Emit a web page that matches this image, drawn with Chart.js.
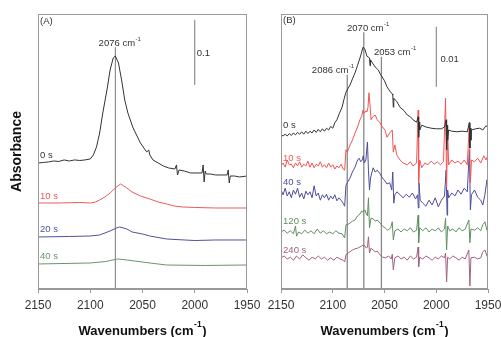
<!DOCTYPE html>
<html>
<head>
<meta charset="utf-8">
<script src="https://cdn.jsdelivr.net/npm/chart.js@4.4.1/dist/chart.umd.min.js"></script>
<style>
  body { margin: 0; background: #ffffff; }
  #wrap { position: relative; width: 501px; height: 337px; overflow: hidden; }
  canvas { position: absolute; top: 0; }
  #chart-a { left: 0; }
  #chart-b { left: 250px; }
</style>
</head>
<body>
<div id="wrap">
  <canvas id="chart-a" width="262" height="337"></canvas>
  <canvas id="chart-b" width="251" height="337"></canvas>
</div>
<script>
// ---- Panel (A): absorbance, spectra offset for display ----
const wnA0 = [2150,2145,2140,2135,2130,2125,2120,2115,2110,2105,2100,2097,2094,2091,2088,2084,2081,2078,2076,2073,
  2070,2067,2064,2059,2052,2046,2044,2043,2040,2035,2030,2025,2019,2017.5,2016.5,2015,2010,2004,1998,1993,
  1992,1991,1990,1989,1985,1980,1975,1969,1968,1967,1966,1962,1957,1950];
const absA0 = [0.1938,0.1946,0.1954,0.1969,0.1962,0.1985,0.1969,0.1985,0.1977,0.1985,0.2000,0.2062,0.2185,0.2400,0.2708,0.3062,0.3369,0.3554,0.3585,0.3477,
  0.3215,0.2908,0.2708,0.2477,0.2246,0.2108,0.2138,0.2062,0.1985,0.1938,0.1892,0.1862,0.1846,0.1908,0.1754,0.1831,0.1815,0.1785,0.1785,0.1785,
  0.1908,0.1646,0.1815,0.1769,0.1769,0.1754,0.1754,0.1754,0.1831,0.1631,0.1738,0.1738,0.1723,0.1738];

const wnA10 = [2150,2130,2110,2100,2095,2091,2086,2081,2078,2075,2071,2068,2065,2060,2052,2043,2035,2027,2020,2012,2000,1980,1950];
const absA10 = [0.1323,0.1323,0.1331,0.1323,0.1338,0.1369,0.1415,0.1477,0.1523,0.1569,0.1615,0.1585,0.1554,0.1492,0.1431,0.1385,0.1338,0.1308,0.1277,0.1262,0.1254,0.1246,0.1246];

const wnA20 = [2150,2120,2100,2091,2081,2075,2072,2065,2060,2050,2043,2027,2010,2000,1980,1950];
const absA20 = [0.0800,0.0808,0.0815,0.0831,0.0892,0.0938,0.0954,0.0923,0.0877,0.0846,0.0815,0.0769,0.0754,0.0746,0.0754,0.0754];

const wnA40 = [2150,2100,2085,2074,2065,2043,2027,1990,1950];
const absA40 = [0.0385,0.0400,0.0423,0.0462,0.0446,0.0400,0.0369,0.0362,0.0369];

// ---- Panel (B): values in 10^-3 absorbance, spectra offset for display ----
const wnB0 = [2150,2148,2146,2144,2142,2140,2138,2136,2134,2132,2130,2128,2126,2124,2122,2120,2118,2116,2114,2112,2110,2108,2106,2104,2102,2100,
  2098,2096,2093.5,2091,2089,2087.2,2085,2083.3,2081,2078.5,2076,2073.7,2072,2070.8,2069,2067,2066,2064.5,2064,2063.5,
  2061,2059,2056,2054,2050,2047.6,2045,2042.5,2042,2041.5,2041,2038,2035,2031,2028,2025,2022.5,2019,2017.5,2017,
  2016.3,2016,2014,2010,2005,2000,1995,1992,1990.5,1990,1989.5,1989,1988,1985,1980,1975,1970,1968,1967.5,1967,
  1966.5,1966,1962,1958,1955,1952,1950];
const mB0 = [25.7,25.5,25.8,25.5,25.9,25.6,26.0,25.7,26.1,25.8,26.2,25.8,26.3,25.9,26.3,26.0,26.5,26.1,26.6,26.2,26.7,26.3,26.8,26.5,27.1,26.8,
  27.7,28.2,29.3,30.3,31.7,32.8,33.5,34.0,35.0,36.0,37.3,38.5,39.5,40.3,40.0,38.8,38.7,38.5,37.2,38.2,
  37.5,37.0,36.5,35.8,34.7,33.7,33.0,32.5,32.3,30.3,31.8,31.2,30.3,29.7,29.0,28.7,28.2,27.8,28.7,25.3,
  27.8,26.5,27.3,27.0,26.8,26.7,26.7,27.0,28.2,23.2,27.3,24.8,26.5,26.3,26.2,26.3,26.2,27.7,23.5,26.8,
  24.8,26.5,26.7,26.8,26.5,27.2,27.0];

const wnB10 = [2150,2148,2146,2144,2142,2140,2138,2136,2134,2132,2130,2128,2126,2124,2122,2120,2118,2116,2114,2112,2110,2108,2106,2104,2102,2100,2098,2096,2094,2092,2090,
  2088.5,2087.2,2086,2083.3,2081,2078.5,2076,2073.7,2072,2070.8,2069.5,2068,2067,2066,2065,2064,2063,2061.5,2059,
  2057,2054.3,2052,2049.5,2047.6,2045,2042.5,2041.5,2040,2038,2035,2032,2028,2025,2022.5,2019,2017.5,2017,2016,2014,
  2011,2008,2005,2002,1999,1996,1993,1991,1990,1989,1988,1985,1982,1979,1976,1973,1970,1968,1967,1966,
  1963,1960,1957,1954,1952,1950];
const mB10 = [20.5,21.0,20.3,21.5,20.7,20.8,20.2,21.0,20.5,21.2,20.3,20.8,20.5,21.3,20.3,21.0,20.2,20.8,20.5,21.2,20.3,20.7,20.2,21.0,20.3,20.7,20.0,20.5,20.2,20.8,20.0,
  19.8,23.2,22.8,24.0,24.8,26.0,27.0,28.2,28.8,29.8,29.3,29.7,29.5,30.2,32.7,30.7,28.2,28.7,29.0,
  28.2,27.7,27.0,26.5,25.3,26.0,26.5,22.8,24.0,22.3,21.5,21.0,20.7,21.2,20.5,21.0,29.8,17.7,21.5,20.2,
  21.0,20.7,21.3,20.8,21.2,20.7,21.2,31.8,17.0,26.5,20.7,21.5,21.0,21.3,20.8,21.5,20.7,27.8,17.7,21.5,
  21.2,21.8,21.0,22.2,21.5,22.3];

const wnB40 = [2150,2148,2146,2144,2142,2140,2138,2136,2134,2132,2130,2128,2126,2124,2122,2120,2118,2116,2114,2112,2110,2108,2106,2104,2102,2100,2098,2096,2094,2092,2090,
  2088.5,2087.2,2086,2083.3,2081,2078.5,2076,2074.5,2073,2071.5,2070.5,2069.5,2068,2066.5,2065.5,2064.5,2063.5,2061,2059,
  2057,2054.3,2052,2049.5,2047.6,2045,2043,2042,2041,2040,2038,2035,2032,2029,2026,2023,2020,2018,2017.3,2016.7,
  2015.5,2013,2010,2007,2004,2001,1998,1995,1992,1990.5,1989.5,1989,1988,1985,1982,1979,1976,1973,1970,1968,
  1967,1966,1963,1960,1957,1955,1953,1951,1950];
const mB40 = [16.5,15.7,16.8,15.5,16.2,15.2,16.5,15.8,16.8,15.3,16.0,15.0,16.3,15.7,16.2,15.2,17.2,15.5,16.0,14.8,15.7,15.2,15.8,14.8,15.5,15.0,15.7,14.7,15.2,14.8,14.3,
  13.8,17.3,17.7,18.5,19.5,20.3,21.5,21.8,21.2,21.5,22.2,21.0,21.5,24.5,19.8,16.5,18.5,20.2,19.5,
  19.8,19.2,18.5,18.0,17.5,17.7,16.5,19.5,14.3,15.7,16.2,15.7,15.2,15.8,15.3,16.0,15.0,15.7,13.5,17.7,
  14.8,14.3,13.8,14.8,14.0,15.2,13.7,14.8,15.5,19.8,12.3,16.5,15.2,16.0,15.5,16.5,15.8,16.8,16.2,23.2,
  13.2,15.7,16.5,15.3,14.8,14.0,15.7,18.2,17.3];

const wnB120 = [2150,2147,2144,2141,2138,2136,2135,2133,2130,2127,2124,2121,2118,2115,2112,2109,2106,2103,2100,2097,
  2094,2091,2088.5,2087.2,2085,2083.3,2081,2078.5,2076,2073.7,2072,2070.8,2069,2067.5,2066.5,2065.5,2064.5,2063,2061,2059,
  2057,2054.3,2052,2049.5,2047,2044,2042.5,2041.5,2040,2037,2034,2031,2028,2025,2022,2019,2017.5,2017,2016,2013,
  2010,2007,2004,2001,1998,1995,1992,1991,1990,1989,1987,1984,1981,1978,1975,1972,1968.5,1967.5,1966.5,1963,
  1960,1957,1955,1953,1951,1950];
const mB120 = [9.5,9.8,9.3,9.7,9.2,10.5,8.8,9.5,9.2,9.8,9.3,9.7,9.2,10.0,9.3,9.7,9.2,9.5,9.2,9.7,
  9.3,9.2,8.5,10.7,10.8,11.0,11.3,11.5,12.2,12.5,13.0,12.8,13.2,12.5,12.2,15.2,10.2,11.8,11.7,11.3,
  11.5,11.0,10.5,10.2,9.8,10.2,11.2,8.2,9.7,10.0,9.5,10.0,9.7,10.2,9.5,9.8,12.3,7.7,10.2,9.7,
  10.2,9.5,10.0,9.7,10.2,9.5,10.0,11.8,6.5,10.5,9.7,10.0,9.5,10.2,9.7,10.0,11.5,7.7,10.0,9.8,
  10.2,9.7,10.7,11.2,9.8,10.3];

const wnB240 = [2150,2147,2144,2141,2138,2135,2132,2129,2126,2123,2120,2117,2114,2111,2108,2105,2102,2099,2096,2093,2090,
  2088.5,2087.2,2085,2083.3,2081,2078.5,2076,2073.7,2072,2070.8,2069,2067.5,2066.5,2065.5,2064.5,2063,2061,2059,2057,
  2054.3,2052,2049,2046,2043.5,2042.5,2041.5,2040,2037,2034,2031,2028,2025,2022,2019,2017.5,2017,2016,2013,2010,
  2007,2004,2001,1998,1995,1992,1991,1990,1989,1987,1984,1981,1978,1975,1972,1968.5,1967.5,1966.5,1963,1960,
  1957,1955,1953,1951,1950];
const mB240 = [5.2,5.5,5.0,5.3,4.8,5.5,5.0,5.7,5.2,4.8,5.3,5.0,5.5,5.0,5.3,4.8,5.2,4.8,5.3,5.0,4.8,
  4.5,5.7,6.0,6.2,6.5,6.7,6.8,7.0,7.2,7.3,7.2,6.8,7.0,8.7,6.0,6.8,6.5,6.2,6.3,
  5.7,5.3,5.2,5.5,5.0,5.8,3.2,5.2,5.5,5.0,5.3,4.8,5.5,5.0,5.3,7.0,3.7,5.3,5.0,5.5,
  5.2,4.8,5.3,5.0,5.5,5.2,6.0,1.2,5.3,5.0,5.5,5.2,4.8,5.3,5.0,6.5,0.5,5.2,5.3,5.0,
  5.2,6.2,6.5,5.5,5.3];

// x tick range, wavenumbers
const wnMin = 1950, wnMax = 2150, wnStep = 50;

// marker lines at band positions [wavenumber, top of line]
const markA = [[2076, 0.372]];
const markB = [[2086, 35.7], [2070, 42.8], [2053, 38.7]];

const FONT = '"Liberation Sans", Arial, Helvetica, sans-serif';
const GRAY = "#999999";

function pts(xs, ys) {
    return xs.map((x, i) => ({x: x, y: ys[i]}));
}

function spectrum(xs, ys, color) {
    return {data: pts(xs, ys), borderColor: color, borderWidth: 1, pointRadius: 0, tension: 0, order: 0};
}

function vline(x, yTop, color, width) {
    return {data: [{x: x, y: 0}, {x: x, y: yTop}], borderColor: color, borderWidth: width, pointRadius: 0, order: 1};
}

// text with a raised "-1" style superscript
function supText(ctx, base, sup, x, y, size, weight, align) {
    ctx.font = weight + " " + size + "px " + FONT;
    const w1 = ctx.measureText(base).width;
    const supSize = Math.round(size * 0.65);
    ctx.font = weight + " " + supSize + "px " + FONT;
    const w2 = sup ? ctx.measureText(sup).width : 0;
    let x0 = x;
    if (align === "center") x0 = x - (w1 + w2) / 2;
    ctx.textAlign = "left";
    ctx.textBaseline = "middle";
    ctx.font = weight + " " + size + "px " + FONT;
    ctx.fillText(base, x0, y);
    if (sup) {
        ctx.font = weight + " " + supSize + "px " + FONT;
        ctx.fillText(sup, x0 + w1 + 0.5, y - size * 0.42);
    }
}

// frame, annotations and the x axis title
const decorPlugin = {
    id: "decor",
    afterDraw(chart) {
        const ctx = chart.ctx;
        const a = chart.chartArea;
        const xs = chart.scales.x, ys = chart.scales.y;
        ctx.save();
        ctx.strokeStyle = GRAY;
        ctx.lineWidth = 1;
        ctx.strokeRect(a.left + 0.5, a.top + 0.5, a.right - a.left - 1, a.bottom - a.top - 1);

        const notes = chart.options.plugins.decor.notes;
        notes.forEach(n => {
            ctx.fillStyle = n.color || "#333333";
            supText(ctx, n.text, n.sup, xs.getPixelForValue(n.x), ys.getPixelForValue(n.y), 9.5, "normal", n.align);
        });

        ctx.fillStyle = "#111111";
        const cx = (a.left + a.right) / 2;
        ctx.font = "bold 13px " + FONT;
        const wBase = ctx.measureText("Wavenumbers (cm").width;
        ctx.font = "bold 8.5px " + FONT;
        const wSup = ctx.measureText("-1").width;
        ctx.font = "bold 13px " + FONT;
        const wEnd = ctx.measureText(")").width;
        const x0 = cx - (wBase + wSup + wEnd + 1) / 2;
        ctx.textAlign = "left";
        ctx.textBaseline = "middle";
        ctx.fillText("Wavenumbers (cm", x0, 331);
        ctx.font = "bold 8.5px " + FONT;
        ctx.fillText("-1", x0 + wBase + 0.5, 325);
        ctx.font = "bold 13px " + FONT;
        ctx.fillText(")", x0 + wBase + wSup + 1, 331);
        ctx.restore();
    }
};

function xAxis() {
    return {
        type: "linear",
        reverse: true,
        min: wnMin,
        max: wnMax,
        ticks: {stepSize: wnStep, color: "#333333", font: {family: FONT, size: 12}, padding: 5,
                format: {useGrouping: false}},
        grid: {drawOnChartArea: false, drawTicks: true, tickLength: 4, color: GRAY},
        border: {display: true, color: GRAY},
        // end labels may spill past the plot box, as in the original
        afterFit: function(scale) {
            scale.paddingLeft = 0;
            scale.paddingRight = 0;
        }
    };
}

Chart.defaults.font.family = FONT;

// Panel A
const chartA = new Chart(document.getElementById("chart-a").getContext("2d"), {
    type: "line",
    data: {
        datasets: [
            spectrum(wnA0, absA0, "#333333"),
            spectrum(wnA10, absA10, "#ee5a5a"),
            spectrum(wnA20, absA20, "#50509e"),
            spectrum(wnA40, absA40, "#6a956a"),
            vline(markA[0][0], markA[0][1], "#777777", 1),
            // 0.1 absorbance scale bar
            {data: [{x: 2000, y: 0.314}, {x: 2000, y: 0.414}], borderColor: "#777777", borderWidth: 1, pointRadius: 0, order: 1}
        ]
    },
    options: {
        responsive: false,
        animation: false,
        devicePixelRatio: 1,
        layout: {padding: {left: 4, right: 15, top: 14, bottom: 19.6}},
        scales: {
            x: xAxis(),
            y: {
                min: 0,
                max: 0.423,
                ticks: {display: false},
                grid: {display: false},
                border: {display: false},
                title: {display: true, text: "Absorbance", color: "#111111",
                        font: {family: FONT, size: 14, weight: "bold"}, padding: {top: 4.6, bottom: 4.6}}
            }
        },
        plugins: {
            legend: {display: false},
            tooltip: {enabled: false},
            decor: {
                notes: [
                    {text: "(A)", x: 2148, y: 0.412},
                    {text: "2076 cm", sup: "-1", x: 2072, y: 0.378, align: "center"},
                    {text: "0.1", x: 1998, y: 0.363},
                    {text: "0 s", x: 2148, y: 0.206, color: "#333333"},
                    {text: "10 s", x: 2148, y: 0.143, color: "#ee5a5a"},
                    {text: "20 s", x: 2148, y: 0.0923, color: "#50509e"},
                    {text: "40 s", x: 2148, y: 0.0508, color: "#6a956a"}
                ]
            }
        }
    },
    plugins: [decorPlugin]
});

// Panel B
const chartB = new Chart(document.getElementById("chart-b").getContext("2d"), {
    type: "line",
    data: {
        datasets: [
            spectrum(wnB0, mB0, "#333333"),
            spectrum(wnB10, mB10, "#f05555"),
            spectrum(wnB40, mB40, "#4c4c9c"),
            spectrum(wnB120, mB120, "#5f8f62"),
            spectrum(wnB240, mB240, "#a0627f"),
            vline(markB[0][0], markB[0][1], "#888888", 1.3),
            vline(markB[1][0], markB[1][1], "#888888", 1.3),
            vline(markB[2][0], markB[2][1], "#888888", 1.3),
            // 0.01 absorbance scale bar
            {data: [{x: 2000, y: 33.7}, {x: 2000, y: 43.7}], borderColor: "#777777", borderWidth: 1, pointRadius: 0, order: 1}
        ]
    },
    options: {
        responsive: false,
        animation: false,
        devicePixelRatio: 1,
        layout: {padding: {left: 31, right: 13, top: 14, bottom: 19.6}},
        scales: {
            x: xAxis(),
            y: {display: false, min: 0, max: 45.83}
        },
        plugins: {
            legend: {display: false},
            tooltip: {enabled: false},
            decor: {
                notes: [
                    {text: "(B)", x: 2148, y: 44.8},
                    {text: "2070 cm", sup: "-1", x: 2066, y: 43.5, align: "center"},
                    {text: "2053 cm", sup: "-1", x: 2040, y: 39.5, align: "center"},
                    {text: "2086 cm", sup: "-1", x: 2100, y: 36.5, align: "center"},
                    {text: "0.01", x: 1996, y: 38.3},
                    {text: "0 s", x: 2148, y: 27.2, color: "#333333"},
                    {text: "10 s", x: 2148, y: 21.7, color: "#f05555"},
                    {text: "40 s", x: 2148, y: 17.7, color: "#4c4c9c"},
                    {text: "120 s", x: 2148, y: 11.3, color: "#5f8f62"},
                    {text: "240 s", x: 2148, y: 6.5, color: "#a0627f"}
                ]
            }
        }
    },
    plugins: [decorPlugin]
});
</script>
</body>
</html>
